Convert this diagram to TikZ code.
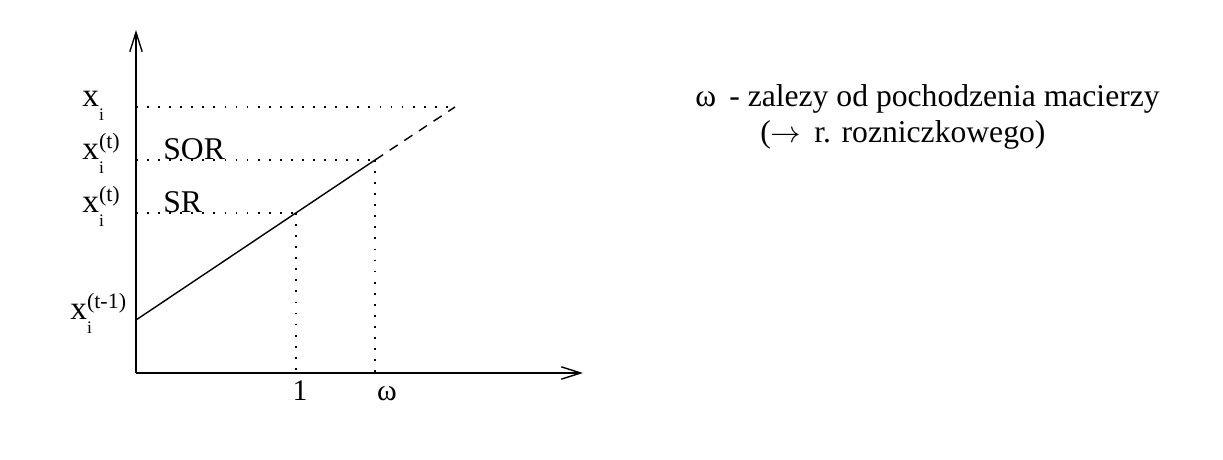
\documentclass[tikz,border=0pt]{standalone}
\usepackage{fontspec}
\setmainfont{Liberation Serif}
\usetikzlibrary{positioning,arrows.meta}
\newcommand{\xlev}[1]{x\rlap{\raisebox{-7.5pt}{\fontsize{10}{10}\selectfont i}}\raisebox{6.5pt}{\fontsize{12.5}{12.5}\selectfont #1}}
\tikzset{
axis/.style={line width=0.8pt,-{Straight Barb[length=11pt,width=7pt]}},
guide/.style={line width=1pt,dash pattern=on 1pt off 5.3pt},
ext/.style={line width=0.8pt,dash pattern=on 5.5pt off 4.5pt},
lev/.style={inner sep=0pt,anchor=base west,font=\fontsize{19}{19}\selectfont},
meth/.style={inner sep=0pt,anchor=base west,font=\fontsize{18}{18}\selectfont},
tick/.style={inner sep=0pt,anchor=base,font=\fontsize{17}{17}\selectfont},
note/.style={inner sep=0pt,anchor=base west,font=\fontsize{18}{20}\selectfont}
}
\begin{document}
\begin{tikzpicture}
\useasboundingbox (-2.72,-1.72) rectangle (21.74,7.46);
\coordinate(o);
\coordinate[above=6.86cm of o](ytop);
\coordinate[right=8.94cm of o](xend);
\coordinate[above=1.06cm of o](q0);
\coordinate[right=3.2cm of o](f1);
\coordinate[above=3.2cm of f1](q1);
\coordinate[right=4.78cm of o](fw);
\coordinate[above=4.26cm of fw](qw);
\coordinate[right=6.38cm of o](fe);
\coordinate[above=5.32cm of fe](qe);
\coordinate[above=5.32cm of o](le);
\coordinate[above=4.26cm of o](ls);
\coordinate[above=3.2cm of o](lr);
\draw[axis](o)--(ytop);
\draw[axis](o)--(xend);
\draw[line width=0.8pt](q0)--(qw);
\draw[ext](qw)--(qe);
\draw[guide](le)--(qe);
\draw[guide](ls)--(qw);
\draw[guide](lr)--(q1);
\draw[guide](q1)--(f1);
\draw[guide](qw)--(fw);
\node[lev](xe) at ([xshift=-1.08cm]le) {\xlev{}};
\node[lev](xs) at ([xshift=-1.08cm]ls) {\xlev{(t)}};
\node[lev](xr) at ([xshift=-1.08cm]lr) {\xlev{(t)}};
\node[lev](x0) at ([xshift=-1.32cm]q0) {\xlev{(t-1)}};
\node[meth](sor) at ([xshift=0.54cm]ls) {SOR};
\node[meth](sr) at ([xshift=0.54cm]lr) {SR};
\node[tick](t1) at ([xshift=0.08cm,yshift=-0.54cm]f1) {1};
\node[tick](tw) at ([xshift=0.24cm,yshift=-0.54cm]fw) {ω};
\node[note](n1) at (11.18,5.32) {ω\, - zalezy od pochodzenia macierzy};
\node[note](n2) at (12.48,4.6) {($\rightarrow$ \,r. rozniczkowego)};
\end{tikzpicture}
\end{document}
